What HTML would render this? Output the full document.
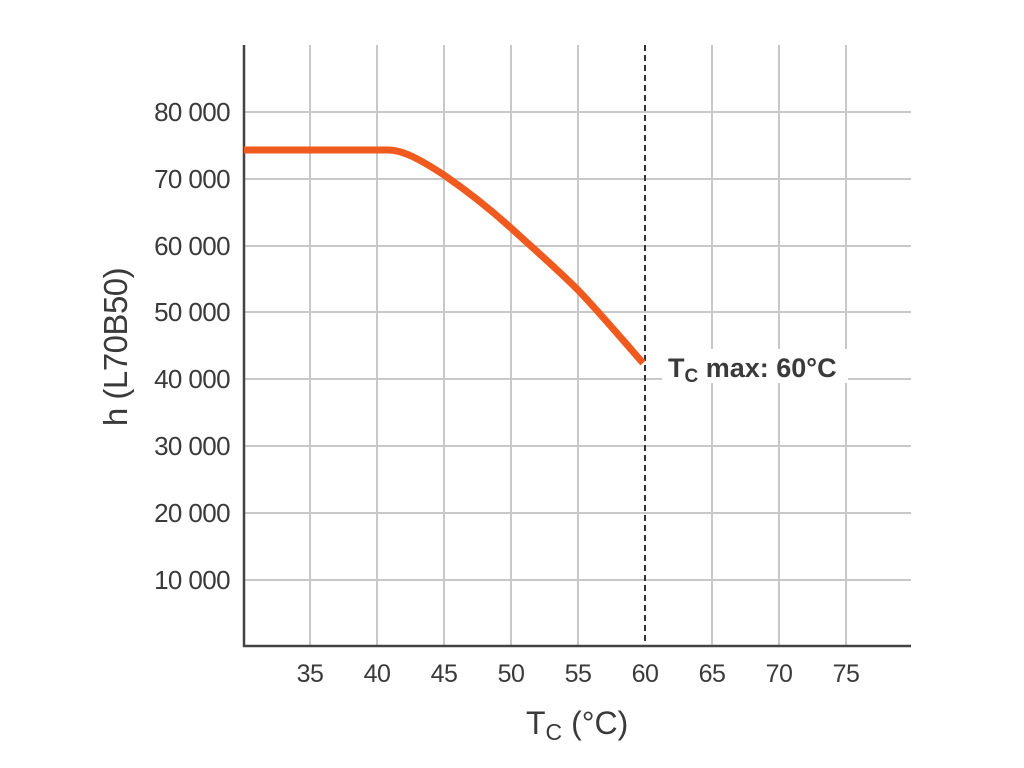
<!DOCTYPE html>
<html><head><meta charset="utf-8"><style>
html,body{margin:0;padding:0;background:#fff;}
svg{display:block;}
text{font-family:"Liberation Sans",sans-serif;fill:#3a3a3a;}
</style></head><body>
<svg width="1024" height="768" viewBox="0 0 1024 768">
<g stroke="#c8c8c8" stroke-width="2">
<line x1="310" y1="45" x2="310" y2="646"/>
<line x1="377" y1="45" x2="377" y2="646"/>
<line x1="444" y1="45" x2="444" y2="646"/>
<line x1="511" y1="45" x2="511" y2="646"/>
<line x1="578" y1="45" x2="578" y2="646"/>
<line x1="712" y1="45" x2="712" y2="646"/>
<line x1="779" y1="45" x2="779" y2="646"/>
<line x1="846" y1="45" x2="846" y2="646"/>
<line x1="244" y1="112" x2="911" y2="112"/>
<line x1="244" y1="179" x2="911" y2="179"/>
<line x1="244" y1="246" x2="911" y2="246"/>
<line x1="244" y1="312" x2="911" y2="312"/>
<line x1="244" y1="379" x2="911" y2="379"/>
<line x1="244" y1="446" x2="911" y2="446"/>
<line x1="244" y1="513" x2="911" y2="513"/>
<line x1="244" y1="580" x2="911" y2="580"/>
</g>
<line x1="645" y1="45" x2="645" y2="646" stroke="#333" stroke-width="2" stroke-dasharray="6,4"/>
<g stroke="#444" stroke-width="2.5">
<line x1="244" y1="45" x2="244" y2="647"/>
<line x1="243" y1="646" x2="911" y2="646"/>
</g>
<path d="M244,150 L388,150 C402,150 418,158 444,175 C470,193 490,209 511,228 C535,250 556,268 578,290 C600,313 620,337 643,363" fill="none" stroke="#f05a1e" stroke-width="7" stroke-linejoin="round"/>
<rect x="662" y="349" width="186" height="34" fill="#fff"/>
<text x="668" y="377" font-size="27" font-weight="bold" style="letter-spacing:0px">T<tspan font-size="19" dy="5">C</tspan><tspan dy="-5"> max: 60°C</tspan></text>
<g font-size="26" text-anchor="end" style="letter-spacing:-0.6px">
<text x="230" y="121">80 000</text>
<text x="230" y="188">70 000</text>
<text x="230" y="255">60 000</text>
<text x="230" y="321">50 000</text>
<text x="230" y="388">40 000</text>
<text x="230" y="455">30 000</text>
<text x="230" y="522">20 000</text>
<text x="230" y="589">10 000</text>
</g>
<g font-size="25" text-anchor="middle" style="letter-spacing:-0.5px">
<text x="310" y="682">35</text>
<text x="377" y="682">40</text>
<text x="444" y="682">45</text>
<text x="511" y="682">50</text>
<text x="578" y="682">55</text>
<text x="645" y="682">60</text>
<text x="712" y="682">65</text>
<text x="779" y="682">70</text>
<text x="846" y="682">75</text>
</g>
<text x="526" y="734" font-size="32">T<tspan font-size="23" dy="6">C</tspan><tspan dy="-6"> (°C)</tspan></text>
<text transform="translate(127,347) rotate(-90)" font-size="33" text-anchor="middle" style="letter-spacing:-0.5px">h (L70B50)</text>
</svg>
</body></html>
